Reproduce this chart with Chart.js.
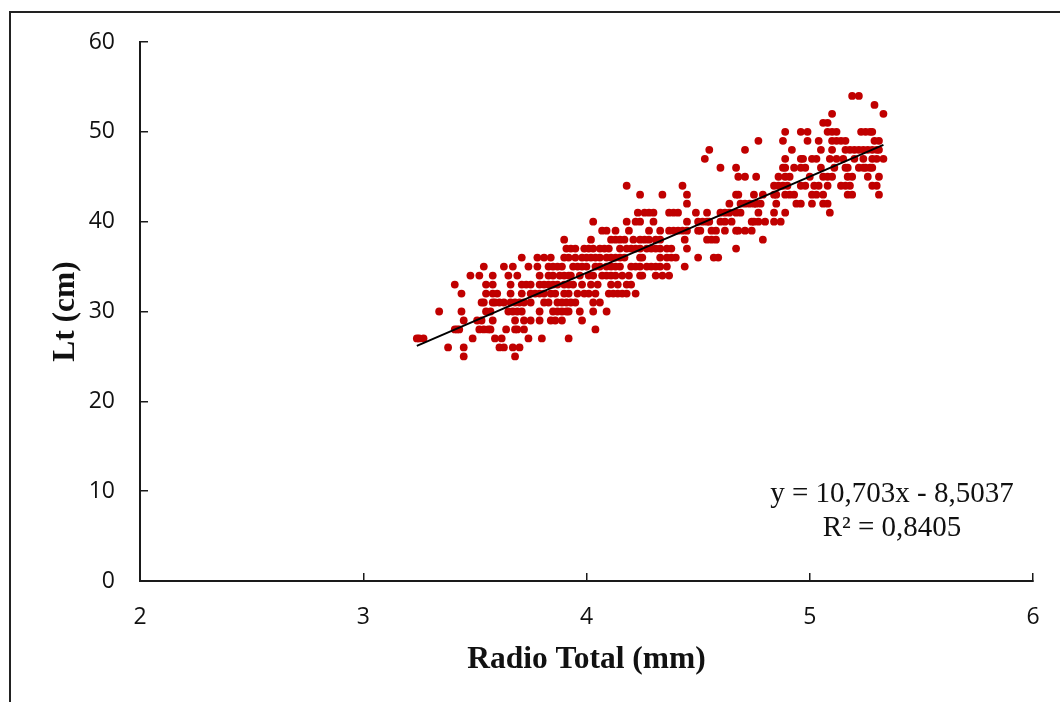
<!DOCTYPE html>
<html>
<head>
<meta charset="utf-8">
<title>Lt vs Radio Total</title>
<script src="https://cdn.jsdelivr.net/npm/chart.js@4"></script>
<style>
  html, body { margin: 0; padding: 0; background: #fff; overflow: hidden; }
  #frame { position: absolute; left: 9px; top: 11px; width: 1100px; height: 800px; border: 2px solid #222; }
  #chart { position: absolute; left: 0; top: 0; }
</style>
</head>
<body>
<div id="frame"></div>
<canvas id="chart" width="1060" height="702"></canvas>
<script>
// Radio total (mm), one list per Lt value (cm)
const radio25 = [3.45, 3.68];
const radio26 = [3.38, 3.45, 3.61, 3.63, 3.67, 3.70];
const radio27 = [3.24, 3.25, 3.27, 3.49, 3.59, 3.62, 3.74, 3.80, 3.92];
const radio28 = [3.41, 3.42, 3.43, 3.52, 3.54, 3.56, 3.57, 3.64, 3.68, 3.69, 3.72, 4.04];
const radio29 = [3.45, 3.51, 3.53, 3.58, 3.68, 3.72, 3.75, 3.79, 3.84, 3.86, 3.89, 3.98];
const radio30 = [3.34, 3.44, 3.55, 3.57, 3.65, 3.67, 3.69, 3.71, 3.79, 3.85, 3.87, 3.89, 3.91, 3.92, 3.97, 4.03, 4.09];
const radio31 = [3.53, 3.54, 3.58, 3.59, 3.61, 3.63, 3.66, 3.68, 3.70, 3.72, 3.75, 3.81, 3.83, 3.87, 3.89, 3.91, 3.93, 3.95, 4.03, 4.06];
const radio32 = [3.44, 3.55, 3.58, 3.60, 3.66, 3.71, 3.75, 3.77, 3.79, 3.81, 3.84, 3.86, 3.90, 3.92, 3.96, 3.99, 4.01, 4.04, 4.10, 4.12, 4.14, 4.16, 4.18, 4.22];
const radio33 = [3.41, 3.55, 3.58, 3.66, 3.71, 3.73, 3.75, 3.79, 3.81, 3.83, 3.85, 3.87, 3.90, 3.92, 3.94, 3.98, 4.02, 4.05, 4.11, 4.14, 4.18, 4.20];
const radio34 = [3.48, 3.52, 3.58, 3.65, 3.69, 3.79, 3.83, 3.85, 3.88, 3.90, 3.92, 3.93, 3.97, 4.01, 4.03, 4.07, 4.09, 4.11, 4.13, 4.16, 4.19, 4.24, 4.25, 4.31, 4.34, 4.37];
const radio35 = [3.54, 3.63, 3.67, 3.74, 3.78, 3.83, 3.85, 3.87, 3.89, 3.94, 3.96, 3.98, 4.00, 4.04, 4.06, 4.09, 4.11, 4.13, 4.15, 4.20, 4.22, 4.24, 4.27, 4.29, 4.31, 4.33, 4.36, 4.44];
const radio36 = [3.71, 3.78, 3.81, 3.84, 3.90, 3.92, 3.95, 3.98, 4.00, 4.02, 4.04, 4.06, 4.09, 4.11, 4.13, 4.15, 4.17, 4.24, 4.25, 4.33, 4.36, 4.38, 4.40, 4.50, 4.57, 4.59];
const radio37 = [3.91, 3.93, 3.95, 3.99, 4.01, 4.03, 4.06, 4.08, 4.10, 4.15, 4.18, 4.20, 4.22, 4.24, 4.27, 4.29, 4.31, 4.33, 4.36, 4.38, 4.45, 4.67];
const radio38 = [3.90, 4.02, 4.11, 4.13, 4.15, 4.17, 4.21, 4.24, 4.26, 4.28, 4.31, 4.33, 4.44, 4.54, 4.56, 4.58, 4.79];
const radio39 = [4.07, 4.09, 4.13, 4.19, 4.28, 4.33, 4.37, 4.39, 4.41, 4.43, 4.45, 4.50, 4.51, 4.56, 4.58, 4.62, 4.67, 4.68, 4.71, 4.74];
const radio40 = [4.03, 4.18, 4.22, 4.24, 4.30, 4.45, 4.50, 4.52, 4.54, 4.55, 4.60, 4.62, 4.65, 4.74, 4.75, 4.77, 4.80, 4.84, 4.87];
const radio41 = [4.23, 4.26, 4.28, 4.30, 4.37, 4.39, 4.41, 4.49, 4.54, 4.60, 4.62, 4.64, 4.67, 4.69, 4.77, 4.84, 4.89, 5.09];
const radio42 = [4.45, 4.64, 4.69, 4.71, 4.73, 4.75, 4.76, 4.78, 4.85, 4.94, 4.96, 5.01, 5.06, 5.08];
const radio43 = [4.24, 4.34, 4.45, 4.67, 4.68, 4.75, 4.79, 4.84, 4.85, 4.89, 4.91, 4.93, 5.01, 5.03, 5.06, 5.17, 5.19, 5.31];
const radio44 = [4.18, 4.43, 4.84, 4.86, 4.88, 4.90, 4.96, 4.98, 5.02, 5.04, 5.08, 5.14, 5.16, 5.18, 5.28, 5.30];
const radio45 = [4.68, 4.71, 4.76, 4.86, 4.89, 4.91, 5.00, 5.06, 5.08, 5.10, 5.17, 5.19, 5.26, 5.31];
const radio46 = [4.60, 4.67, 4.88, 4.89, 4.93, 4.96, 4.98, 5.05, 5.11, 5.16, 5.17, 5.22, 5.24, 5.25, 5.27, 5.28];
const radio47 = [4.53, 4.89, 4.96, 4.97, 5.01, 5.03, 5.09, 5.12, 5.15, 5.20, 5.24, 5.28, 5.30, 5.33];
const radio48 = [4.55, 4.71, 4.92, 5.05, 5.10, 5.16, 5.18, 5.20, 5.22, 5.24, 5.26, 5.28, 5.30, 5.31];
const radio49 = [4.77, 4.88, 4.99, 5.04, 5.10, 5.12, 5.14, 5.16, 5.29, 5.31];
const radio50 = [4.89, 4.96, 4.99, 5.08, 5.10, 5.12, 5.23, 5.25, 5.27, 5.28];
const radio51 = [5.06, 5.08];
const radio52 = [5.10, 5.33];
const radio53 = [5.29];
const radio54 = [5.19, 5.22];

const rows = [
  [25, radio25], [26, radio26], [27, radio27], [28, radio28], [29, radio29], [30, radio30],
  [31, radio31], [32, radio32], [33, radio33], [34, radio34], [35, radio35], [36, radio36],
  [37, radio37], [38, radio38], [39, radio39], [40, radio40], [41, radio41], [42, radio42],
  [43, radio43], [44, radio44], [45, radio45], [46, radio46], [47, radio47], [48, radio48],
  [49, radio49], [50, radio50], [51, radio51], [52, radio52], [53, radio53], [54, radio54]
];

// Trendline ends
const trendX = [3.24, 5.33];
const trendY = [26.17, 48.54];

const equationLines = ['y = 10,703x - 8,5037', 'R² = 0,8405'];

const points = [];
rows.forEach(([lt, radios]) => radios.forEach(r => points.push({ x: r, y: lt })));

const tickFont = { family: 'Open Sans', size: 23 };
const titleFont = { family: 'Liberation Serif', size: 31.5, weight: 'bold' };
const INK = '#1a1a1a';

const equationLabel = {
  id: 'equationLabel',
  afterDraw(chart) {
    const { ctx } = chart;
    ctx.save();
    ctx.font = '29px "Liberation Serif"';
    ctx.fillStyle = '#111';
    ctx.textAlign = 'center';
    ctx.textBaseline = 'alphabetic';
    ctx.fillText(equationLines[0], 892, 502);
    ctx.fillText(equationLines[1], 892, 536);
    ctx.restore();
  }
};

new Chart(document.getElementById('chart').getContext('2d'), {
  type: 'scatter',
  data: {
    datasets: [
      {
        label: 'Lt',
        data: points,
        backgroundColor: '#C00000',
        borderWidth: 0,
        pointRadius: 3.9,
        order: 2
      },
      {
        type: 'line',
        label: 'Trend',
        data: trendX.map((x, i) => ({ x, y: trendY[i] })),
        borderColor: '#000',
        borderWidth: 2,
        pointRadius: 0,
        fill: false,
        tension: 0,
        order: 1
      }
    ]
  },
  options: {
    responsive: false,
    animation: false,
    layout: { padding: { top: 42, right: 27, left: 0, bottom: 0 } },
    plugins: { legend: { display: false }, tooltip: { enabled: false } },
    scales: {
      x: {
        type: 'linear',
        min: 2,
        max: 6,
        afterFit: s => { s.height = 121; s.paddingLeft = 0; s.paddingRight = 0; },
        ticks: { stepSize: 1, color: '#111', font: tickFont, padding: 31, maxRotation: 0 },
        border: { color: INK, width: 2 },
        grid: { drawOnChartArea: false, color: INK, lineWidth: 1.5, tickLength: -8 },
        title: { display: true, text: 'Radio Total (mm)', color: '#111', font: titleFont, padding: { top: 0, bottom: 23 } }
      },
      y: {
        min: 0,
        max: 60,
        afterFit: s => { s.width = 140; s.paddingTop = 0; s.paddingBottom = 0; },
        ticks: { stepSize: 10, color: '#111', font: tickFont, padding: 33 },
        border: { color: INK, width: 2 },
        grid: { drawOnChartArea: false, color: INK, lineWidth: 1.5, tickLength: -8 },
        title: { display: true, text: 'Lt (cm)', color: '#111', font: titleFont, padding: { top: 47, bottom: 0 } }
      }
    }
  },
  plugins: [equationLabel]
});
</script>
</body>
</html>
